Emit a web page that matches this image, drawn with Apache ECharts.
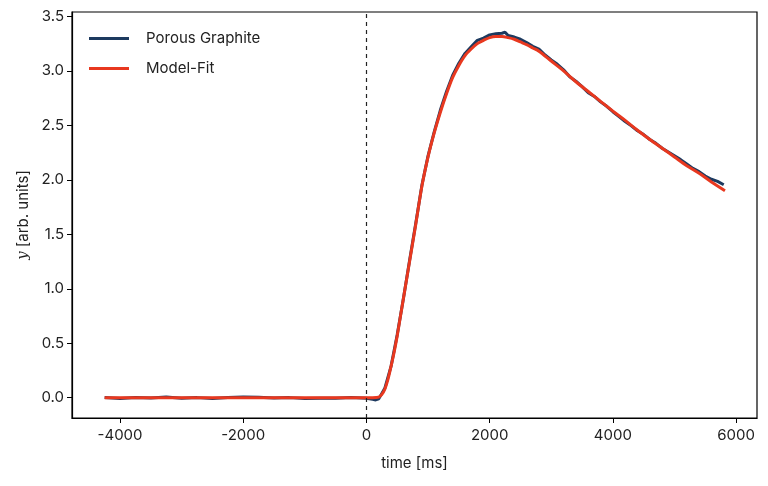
<!DOCTYPE html>
<html lang="en">
<head>
  <meta charset="UTF-8">
  <title>Porous Graphite</title>
  <style>
    * { margin: 0; padding: 0; }
    #main { width: 768px; height: 486px; background: #fff; }
  </style>
</head>
<body>
  <div id="main"></div>
  <script src="https://cdn.jsdelivr.net/npm/echarts@6/dist/echarts.min.js"></script>
  <script>
    // measured signal (time ms, y)
    const dataTime = [-4250, -4000, -3750, -3500, -3250, -3000, -2750, -2500, -2250, -2000, -1750, -1500, -1250, -1000, -750, -500, -250, 0, 100, 150, 200, 250,
      300, 400, 500, 600, 700, 800, 900, 1000, 1100, 1200, 1300, 1400, 1500, 1600, 1700, 1800, 1900, 2000, 2100, 2200, 2250, 2300, 2400, 2500,
      2600, 2700, 2800, 2900, 3000, 3100, 3200, 3300, 3400, 3500, 3600, 3700, 3800, 3900, 4000, 4100, 4200, 4300, 4400, 4500, 4600, 4700,
      4800, 4900, 5000, 5100, 5200, 5300, 5400, 5500, 5600, 5700, 5800]
    const dataY = [0.002, -0.008, 0.003, -0.002, 0.006, -0.004, 0.001, -0.007, 0.002, 0.007, 0.004, -0.003, 0.001, -0.006, -0.004, -0.005, 0.002, -0.004, -0.015, -0.02, -0.01, 0.04,
      0.09, 0.29, 0.58, 0.91, 1.26, 1.6, 1.95, 2.22, 2.44, 2.64, 2.81, 2.96, 3.07, 3.16, 3.22, 3.28, 3.3, 3.33, 3.34, 3.345, 3.355, 3.325, 3.31, 3.29,
      3.26, 3.225, 3.2, 3.145, 3.1, 3.06, 3.01, 2.945, 2.905, 2.855, 2.8, 2.765, 2.715, 2.675, 2.625, 2.58, 2.535, 2.495, 2.45, 2.415, 2.37, 2.335,
      2.29, 2.255, 2.22, 2.185, 2.145, 2.105, 2.075, 2.035, 2.005, 1.985, 1.955]

    // model fit
    const fitTime = [-4250, 0, 100, 200, 250, 300, 350, 400, 450, 500, 550, 600, 650, 700, 800, 900, 1000, 1100, 1200, 1300, 1400, 1500,
      1600, 1700, 1800, 1900, 2000, 2100, 2200, 2300, 2400, 2500, 2600, 2700, 2800, 3000, 3200, 3400, 3600, 3800, 4000, 4200, 4400,
      4600, 4800, 5000, 5200, 5400, 5600, 5820]
    const fitY = [0, 0, 0, 0.005, 0.03, 0.08, 0.17, 0.29, 0.42, 0.57, 0.74, 0.91, 1.08, 1.25, 1.59, 1.94, 2.21, 2.43, 2.62, 2.79, 2.94, 3.05,
      3.14, 3.2, 3.25, 3.28, 3.305, 3.315, 3.315, 3.305, 3.29, 3.265, 3.24, 3.21, 3.18, 3.09, 3.0, 2.9, 2.81, 2.72, 2.63, 2.545, 2.455,
      2.37, 2.29, 2.21, 2.13, 2.06, 1.98, 1.9]

    const xTicks = [-4000, -2000, 0, 2000, 4000, 6000]
    const yTicks = [0, 0.5, 1, 1.5, 2, 2.5, 3, 3.5]

    const font = 'Inter, "DejaVu Sans", sans-serif'
    const chart = echarts.init(document.getElementById('main'))

    chart.setOption({
      animation: false,
      textStyle: { fontFamily: font },
      grid: {
        left: 72, right: 11, top: 12, bottom: 68,
        show: true, borderColor: '#000', borderWidth: 1.2, backgroundColor: 'transparent'
      },
      legend: {
        left: 84, top: 26, orient: 'vertical', itemGap: 15,
        itemWidth: 40, itemHeight: 14,
        textStyle: { fontSize: 15, color: '#222', fontFamily: font, padding: [0, 0, 0, 12] },
        data: [
          { name: 'Porous Graphite', icon: 'path://M0,6 L40,6 L40,9 L0,9 Z', itemStyle: { color: '#1d3a5f' } },
          { name: 'Model-Fit', icon: 'path://M0,6 L40,6 L40,9 L0,9 Z', itemStyle: { color: '#e8381f' } }
        ]
      },
      xAxis: {
        type: 'value', min: -4780, max: 6340,
        name: 'time [ms]', nameLocation: 'middle', nameGap: 38,
        nameTextStyle: { fontSize: 15, color: '#222' },
        splitLine: { show: false },
        axisLine: { show: true, onZero: false, lineStyle: { color: '#000', width: 1.2 } },
        axisTick: { show: true, length: 5, lineStyle: { color: '#000' }, customValues: xTicks },
        axisLabel: { fontSize: 15, color: '#222', margin: 10, customValues: xTicks, formatter: v => String(v) }
      },
      yAxis: {
        type: 'value', min: -0.186, max: 3.54,
        name: '{i|y} [arb. units]', nameLocation: 'middle', nameGap: 33, nameRotate: 90,
        nameTextStyle: {
          fontSize: 15, color: '#222',
          rich: { i: { fontSize: 15, fontStyle: 'italic', fontFamily: '"DejaVu Serif", serif', color: '#222' } }
        },
        splitLine: { show: false },
        axisLine: { show: true, onZero: false, lineStyle: { color: '#000', width: 1.2 } },
        axisTick: { show: true, length: 5, lineStyle: { color: '#000' }, customValues: yTicks },
        axisLabel: { fontSize: 15, color: '#222', margin: 8, customValues: yTicks, formatter: v => v.toFixed(1) }
      },
      series: [
        {
          name: 'Porous Graphite', type: 'line', showSymbol: false,
          data: dataTime.map((t, i) => [t, dataY[i]]),
          lineStyle: { color: '#1d3a5f', width: 3 },
          itemStyle: { color: '#1d3a5f' },
          markLine: {
            silent: true, symbol: 'none', label: { show: false },
            lineStyle: { color: '#222', type: [4, 4], width: 1.2 },
            data: [{ xAxis: 0 }]
          }
        },
        {
          name: 'Model-Fit', type: 'line', showSymbol: false, smooth: 0.3,
          data: fitTime.map((t, i) => [t, fitY[i]]),
          lineStyle: { color: '#e8381f', width: 3 },
          itemStyle: { color: '#e8381f' }
        }
      ]
    })
  </script>
</body>
</html>
